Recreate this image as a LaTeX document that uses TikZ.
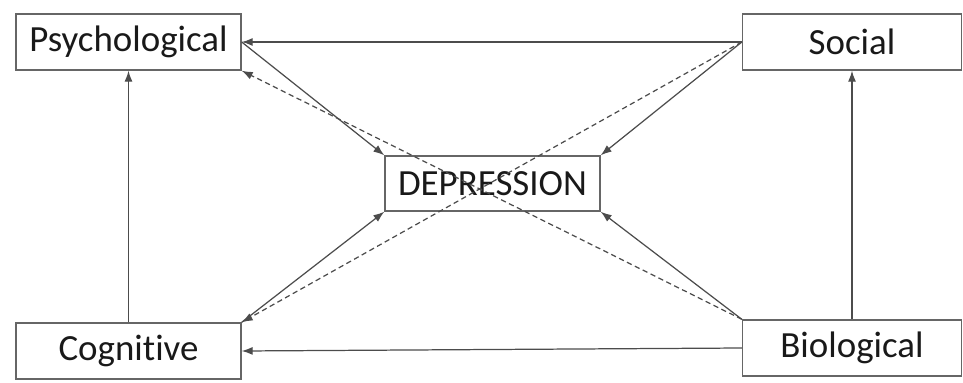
\documentclass[tikz,border=0pt]{standalone}
\usepackage{fontspec}
\setmainfont[Ligatures={NoCommon}]{Carlito}
\usepackage{tikz}
\usetikzlibrary{positioning,arrows.meta,calc}
\tikzset{
  dmbox/.style={rectangle, draw=black!60, line width=0.8pt, inner sep=0pt,
                font=\fontsize{21}{24}\selectfont, text=black!90},
  dmrel/.style={draw=black!70, line width=0.7pt, -{Latex[length=2.2mm,width=1.6mm]}},
  dmweak/.style={dmrel, dashed, dash pattern=on 3pt off 2pt},
}

\begin{document}
\begin{tikzpicture}[x=0.02cm, y=-0.02cm]
  \useasboundingbox (0,0) rectangle (963,382);
  \node[dmbox, minimum width=4.5cm, minimum height=1.12cm] (psy) at (128.5,42) {Psychological};
  \node[dmbox, minimum width=4.38cm, minimum height=1.12cm] (soc) at (852,42) {Social};
  \node[dmbox, minimum width=4.3cm, minimum height=1.1cm] (dep) at (492.5,183.5) {DEPRESSION};
  \node[dmbox, minimum width=4.5cm, minimum height=1.12cm] (cog) at (128.5,351) {Cognitive};
  \node[dmbox, minimum width=4.38cm, minimum height=1.12cm] (bio) at (852,348) {Biological};
  \draw[dmrel] (soc.west) -- (psy.east);
  \draw[dmrel] (soc.west) -- (dep.north east);
  \draw[dmweak] (soc.west) -- (cog.north east);
  \draw[dmrel] (psy.east) -- (dep.north west);
  \draw[dmrel] (cog.north) -- (psy.south);
  \draw[dmrel] (cog.north east) -- (dep.south west);
  \draw[dmrel] (bio.west) -- (cog.east);
  \draw[dmrel] (bio.north west) -- (dep.south east);
  \draw[dmweak] (bio.north west) -- (psy.south east);
  \draw[dmrel] (bio.north) -- (soc.south);
\end{tikzpicture}
\end{document}
